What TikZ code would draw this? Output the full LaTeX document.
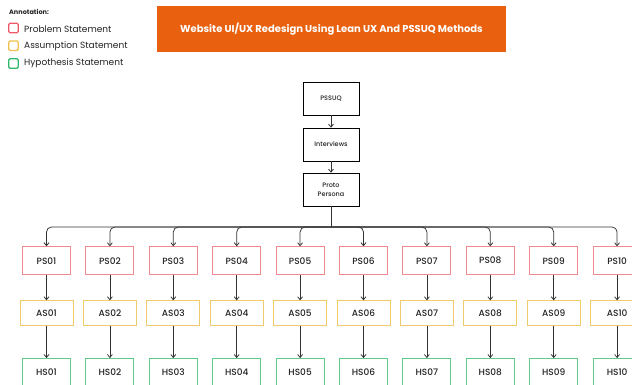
\documentclass[tikz,border=0pt]{standalone}
\usepackage{fontspec}
\setmainfont{Poppins}
\newfontfamily\popmed{Poppins Medium}
\usetikzlibrary{arrows.meta}
\definecolor{orng}{HTML}{E9600E}
\definecolor{psred}{HTML}{F08A8E}
\definecolor{asyel}{HTML}{EFCB6B}
\definecolor{hsgrn}{HTML}{5FCB8A}
\definecolor{lgred}{HTML}{EE5A6A}
\definecolor{lgyel}{HTML}{EFC14F}
\definecolor{lggrn}{HTML}{2FB86A}
\definecolor{lnk}{HTML}{333333}
\definecolor{txt}{HTML}{222222}
\begin{document}
\begin{tikzpicture}[x=1pt,y=-1pt,
  every node/.style={inner sep=0pt, text=txt},
  flowbox/.style={draw=black, line width=0.7pt, minimum width=56pt, minimum height=33pt, align=center, font=\popmed\fontsize{6.5}{9}\selectfont},
  psbox/.style={draw=psred, line width=0.9pt, minimum width=48pt, minimum height=28pt, font=\popmed\fontsize{9}{10}\selectfont},
  asbox/.style={draw=asyel, line width=0.9pt, minimum width=53pt, minimum height=24.5pt, font=\popmed\fontsize{9}{10}\selectfont},
  hsbox/.style={draw=hsgrn, line width=0.9pt, minimum width=48pt, minimum height=28pt, font=\popmed\fontsize{9}{10}\selectfont},
  lnkline/.style={draw=lnk, line width=0.75pt},
  arr/.style={lnkline, -{Straight Barb[length=3pt,width=5pt]}},
  legsq/.style={line width=1.3pt, minimum width=9.5pt, minimum height=9.5pt, rounded corners=1.3pt},
  legtxt/.style={anchor=west, font=\fontsize{9}{10}\selectfont}
]
\useasboundingbox (0,0) rectangle (632,384);
\clip (0,0) rectangle (632,384);
% legend
\node[anchor=west, font=\bfseries\fontsize{6.5}{8}\selectfont] (ann) at (9,12) {Annotation:};
\node[legsq, draw=lgred] (lps) at (13.5,28) {};
\node[legtxt] (lpst) at (24,29) {Problem Statement};
\node[legsq, draw=lgyel] (las) at (13.5,45.7) {};
\node[legtxt] (last) at (24,46) {Assumption Statement};
\node[legsq, draw=lggrn] (lhs) at (13.5,63.5) {};
\node[legtxt] (lhst) at (24,63) {Hypothesis Statement};
% title
\node[fill=orng, minimum width=349pt, minimum height=46pt, text=white, font=\bfseries\fontsize{10}{12}\selectfont] (title) at (331.5,29) {Website UI/UX Redesign Using Lean UX And PSSUQ Methods};
% flow
\node[flowbox] (pssuq) at (331,98.5) {PSSUQ};
\node[flowbox] (intv) at (331,144.5) {Interviews};
\node[flowbox] (proto) at (331,189.5) {Proto\\Persona};
\draw[arr] (pssuq) -- (intv);
\draw[arr] (intv) -- (proto);
\coordinate (bus) at (331,227);
\draw[lnkline] (proto.south) -- (bus);
\foreach \i/\n in {1/01,2/02,3/03,4/04,5/05,6/06,7/07,8/08,9/09,10/10}{
  \pgfmathsetmacro{\cx}{46.5+63.4*(\i-1)}
  \node[psbox] (ps\n) at (\cx,260.7) {PS\n};
  \node[asbox] (as\n) at (\cx,313) {AS\n};
  \node[hsbox] (hs\n) at (\cx,372.5) {HS\n};
  \draw[arr, rounded corners=5pt] (bus) -| (ps\n.north);
  \draw[arr] (ps\n) -- (as\n);
  \draw[arr] (as\n) -- (hs\n);
}
\end{tikzpicture}
\end{document}
